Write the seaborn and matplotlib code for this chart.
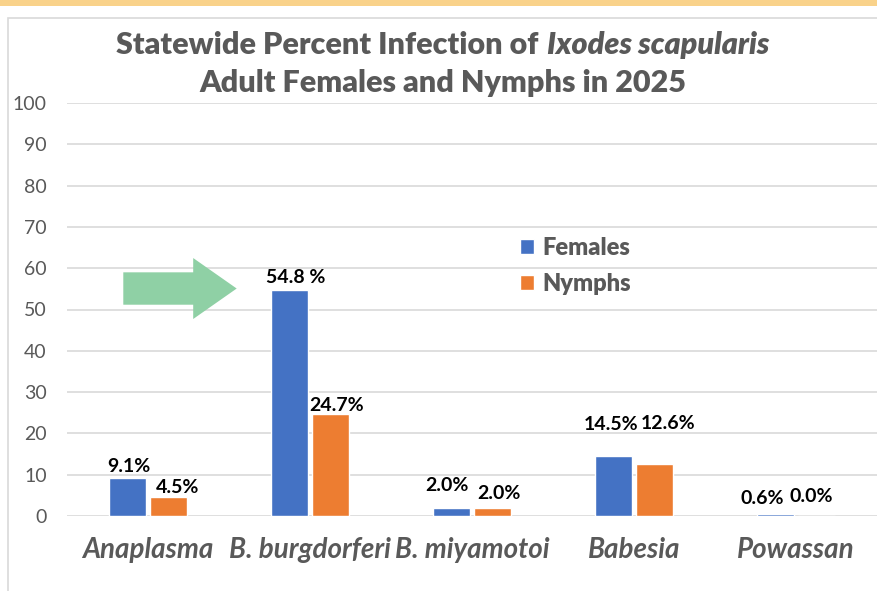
import matplotlib
matplotlib.use("Agg")
import matplotlib.pyplot as plt
import seaborn as sns
import pandas as pd
from matplotlib.patches import Rectangle, Polygon

# -----------------------------
# Data
# -----------------------------
pathogens = ["Anaplasma", "B. burgdorferi", "B. miyamotoi", "Babesia", "Powassan"]
groups = ["Females", "Nymphs"]
females = [9.1, 54.8, 2.0, 14.5, 0.6]
nymphs = [4.5, 24.7, 2.0, 12.6, 0.0]
female_labels = ["9.1%", "54.8 %", "2.0%", "14.5%", "0.6%"]
nymph_labels = ["4.5%", "24.7%", "2.0%", "12.6%", "0.0%"]
y_ticks = [0, 10, 20, 30, 40, 50, 60, 70, 80, 90, 100]

df = pd.DataFrame({
    "Pathogen": pathogens * 2,
    "Group": [groups[0]] * len(pathogens) + [groups[1]] * len(pathogens),
    "Percent": females + nymphs,
})

# label nudges in pixels (dx, dy of label centre above bar top)
female_offsets = [(2, 12), (6, 12), (-4, 22), (-2, 32), (-13, 15)]
nymph_offsets = [(9, 10), (6, 8), (6, 14), (13, 40), (-5, 20)]

GREY = "#595959"
GRID = "#D9D9D9"

sns.set_theme(style="white")
plt.rcParams["font.family"] = ["Lato", "DejaVu Sans"]

W, H = 877, 591
fig = plt.figure(figsize=(W / 100, H / 100), dpi=100)
fig.patch.set_facecolor("white")

# page decorations: yellow strip and chart frame
fig.patches.append(Rectangle((0, 1 - 6 / H), 1, 6 / H, transform=fig.transFigure,
                             facecolor="#F9D28A", edgecolor="none", zorder=0))
fig.patches.append(Rectangle((8 / W, -0.01), 1.0, 1 - 18 / H + 0.01, transform=fig.transFigure,
                             fill=False, edgecolor=GRID, lw=1.2, zorder=0))

ax = fig.add_axes([67 / W, 1 - 516 / H, 810 / W, 413 / H])
sns.barplot(data=df, x="Pathogen", y="Percent", hue="Group", hue_order=groups,
            palette=["#4472C4", "#ED7D31"], saturation=1, width=0.51, gap=0.1,
            errorbar=None, ax=ax)

ax.set_xlim(-0.5, len(pathogens) - 0.5)
ax.set_ylim(0, 100)
ax.set_yticks(y_ticks)
ax.set_axisbelow(True)
ax.yaxis.grid(True, color=GRID, lw=1.2)
for s in ax.spines.values():
    s.set_visible(False)
ax.set_xlabel("")
ax.set_ylabel("")
ax.tick_params(axis="y", length=0, pad=14.5, labelsize=14, labelcolor=GREY)
ax.tick_params(axis="x", length=0, pad=15, labelcolor=GREY)
for lab in ax.get_xticklabels():
    lab.set_fontsize(20)
    lab.set_fontstyle("italic")
    lab.set_fontweight("bold")

# value labels
for cont, labels, offs in zip(ax.containers, [female_labels, nymph_labels],
                              [female_offsets, nymph_offsets]):
    for bar, txt, (dx, dy) in zip(cont, labels, offs):
        ax.annotate(txt, (bar.get_x() + bar.get_width() / 2, bar.get_height()),
                    xytext=(dx, dy), textcoords="offset pixels",
                    ha="center", va="center", fontsize=14, fontweight="bold",
                    color="black")

# legend
handles, labels = ax.get_legend_handles_labels()
ax.legend(handles, labels, loc="upper left", bbox_to_anchor=(0.559, 0.675),
          frameon=False, borderaxespad=0, borderpad=0, handlelength=0.6,
          handleheight=0.6, handletextpad=0.37, labelspacing=0.58,
          prop={"weight": "heavy", "size": 17}, labelcolor=GREY)

# green arrow pointing at B. burgdorferi
tail, base, tip = 0.0695, 0.1558, 0.2095
yc, hw, HW = 0.5508, 0.0392, 0.0738
arrow = Polygon([(tail, yc - hw), (base, yc - hw), (base, yc - HW), (tip, yc),
                 (base, yc + HW), (base, yc + hw), (tail, yc + hw)],
                closed=True, transform=ax.transAxes, facecolor="#8FD0A5",
                edgecolor="none", zorder=5)
ax.add_patch(arrow)

# title (two lines, species name in italics)
cx = 443 / W
title_size = 22
title_weight = "heavy"
t1 = fig.text(0, 1 - 45 / H, "Statewide Percent Infection of", fontsize=title_size,
              fontweight=title_weight, color=GREY, va="center", ha="left")
t2 = fig.text(0, 1 - 45 / H, "Ixodes scapularis", fontsize=title_size,
              fontweight=title_weight, fontstyle="italic", color=GREY, va="center", ha="left")
fig.text(cx, 1 - 83 / H, "Adult Females and Nymphs in 2025", fontsize=title_size,
         fontweight=title_weight, color=GREY, va="center", ha="center")

fig.canvas.draw()
r = fig.canvas.get_renderer()
w1 = t1.get_window_extent(r).width
w2 = t2.get_window_extent(r).width
gap = 0.27 * title_size * 100 / 72
start = cx * W - (w1 + gap + w2) / 2
t1.set_x(start / W)
t2.set_x((start + w1 + gap) / W)

fig.savefig("out.png", dpi=100)
